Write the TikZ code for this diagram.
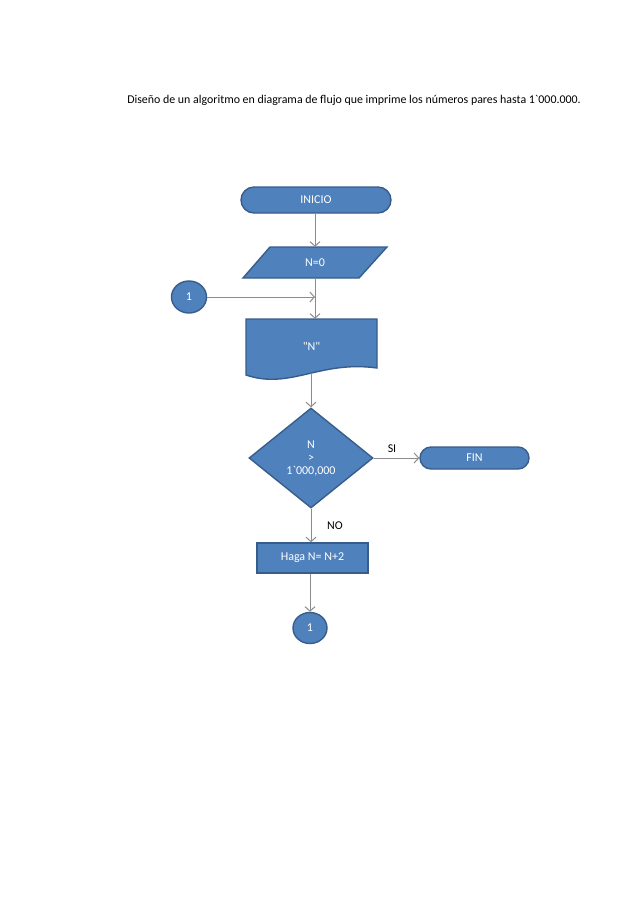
\documentclass[tikz,border=0pt]{standalone}
\usepackage{fontspec}
\setmainfont{Carlito}
\usetikzlibrary{positioning,shapes.geometric,shapes.misc,arrows.meta}
\definecolor{azul}{HTML}{4F81BD}
\definecolor{borde}{HTML}{385D8A}
\definecolor{gris}{HTML}{8C8C8C}

\begin{document}
\begin{tikzpicture}[x=1pt,y=-1pt,
   bloque/.style={fill=azul,draw=borde,line width=1.4pt,text=white,inner sep=0pt,
      font=\fontsize{12}{13}\selectfont},
   forma/.style={fill=azul,draw=borde,line width=1.4pt},
   texto/.style={text=white,inner sep=0pt,font=\fontsize{12}{13}\selectfont},
   flecha/.style={draw=gris,line width=1pt,-{Straight Barb[length=4.5pt,width=10pt]}},
   etiqueta/.style={font=\fontsize{11.9}{13}\selectfont}]

   \useasboundingbox[fill=white] (0,0) rectangle (638,903);

   \node[etiqueta] at (354,100) (titulo) {Diseño de un algoritmo en diagrama de flujo que imprime los números pares hasta 1\textasciigrave 000.000.};

   \node[bloque,rounded rectangle,minimum width=150pt,minimum height=26pt] at (316,200) (inicio) {INICIO};

   \filldraw[forma] (270,247) -- (387,247) -- (359,278) -- (243,278) -- cycle;
   \node[texto,minimum width=90pt,minimum height=31pt] at (315,262.5) (dato) {N=0};

   \node[bloque,ellipse,minimum width=35pt,minimum height=32pt] at (189,297) (unoA) {1};

   \filldraw[forma] (246,319) -- (377,319) -- (377,368) .. controls (320,360) and (290,390) .. (246,375) -- cycle;
   \node[texto,minimum width=131pt,minimum height=54pt] at (311.5,346) (doc) {\textquotedbl N\textquotedbl};

   \node[bloque,diamond,minimum width=124pt,minimum height=100pt,align=center] at (311,458) (decision) {N\\>\\1\textasciigrave 000,000};
   \node[bloque,rounded rectangle,minimum width=109pt,minimum height=22pt] at (474.5,458) (fin) {FIN};
   \node[bloque,rectangle,minimum width=111pt,minimum height=30pt] at (312.5,558) (haga) {Haga N= N+2};
   \node[bloque,ellipse,minimum width=34pt,minimum height=31pt] at (310,628) (unoB) {1};

   \node[etiqueta] at (392,449) (si) {SI};
   \node[etiqueta] at (335,526) (no) {NO};

   \coordinate (union) at (dato.south |- unoA);

   \draw[flecha] (inicio.south -| dato) -- (dato.north);
   \draw[flecha] (dato.south) -- (dato.south |- doc.north);
   \draw[flecha] (unoA) -- (union);
   \draw[flecha] (doc.south -| decision) -- (decision.north);
   \draw[flecha] (decision.east) -- (fin.west);
   \draw[flecha] (decision.south) -- (decision.south |- haga.north);
   \draw[flecha] (haga.south -| unoB) -- (unoB.north);
\end{tikzpicture}
\end{document}
